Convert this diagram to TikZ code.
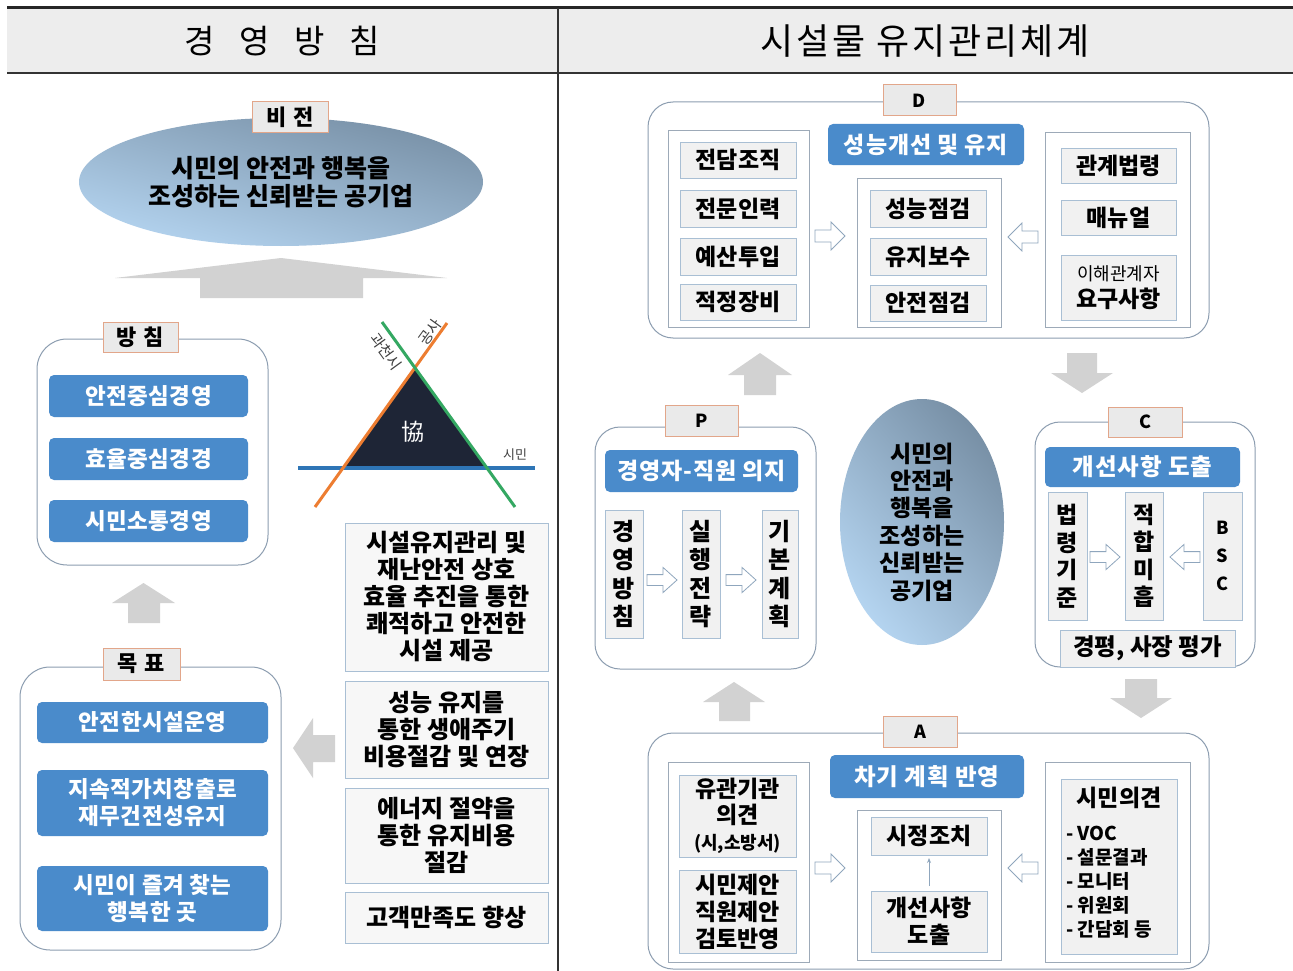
\documentclass[tikz,border=0pt]{standalone}
\usepackage{fontspec}
\setmainfont{Noto Sans CJK KR}
\newfontfamily\hdfont[LetterSpace=8]{Noto Sans CJK KR}
\newfontfamily\barfont[LetterSpace=2]{Noto Sans CJK KR}
\newfontfamily\sbarfont[LetterSpace=4]{Noto Sans CJK KR}
\usetikzlibrary{shapes.geometric,arrows.meta}
\definecolor{barc}{HTML}{4A8BCB}
\definecolor{lblf}{HTML}{EAEAEA}
\definecolor{lbld}{HTML}{E2A68A}
\definecolor{oboxc}{HTML}{8C9DB0}
\definecolor{itemd}{HTML}{A9BFD4}
\definecolor{itemf}{HTML}{F1F1F1}
\definecolor{grpc}{HTML}{9DAAB8}
\definecolor{garc}{HTML}{D2D2D2}
\definecolor{harc}{HTML}{8FA6BD}
\definecolor{hdrf}{HTML}{EDEDED}
\definecolor{navyc}{HTML}{1E2536}
\definecolor{lineb}{HTML}{2E75B6}
\definecolor{lineo}{HTML}{ED7D31}
\definecolor{lineg}{HTML}{34A862}
\definecolor{ellD}{HTML}{7890A6}
\definecolor{ellL}{HTML}{B4D4F0}
\newcommand{\FS}[2]{\fontsize{#1}{#2}\selectfont}
\newcommand{\BX}[7]{\node[#1, minimum width={(#5)-(#3)}, minimum height={(#6)-(#4)}] (#2) at ({((#3)+(#5))/2},{((#4)+(#6))/2}) {#7};}
\begin{document}
\begin{tikzpicture}[x=1pt,y=-1pt,
  every node/.style={inner sep=0pt, outer sep=0pt},
  lblbox/.style={draw=lbld, fill=lblf, line width=1pt, font=\bfseries\FS{22}{24}},
  outerbox/.style={draw=oboxc, fill=white, line width=1pt, rounded corners=25pt},
  bluebar/.style={fill=barc, rounded corners=5pt, text=white, align=center, font=\barfont\bfseries\FS{22.5}{27}},
  itembox/.style={draw=itemd, fill=itemf, line width=0.8pt, align=center, font=\bfseries\FS{23}{27}},
  grpbox/.style={draw=grpc, fill=white, line width=0.8pt},
  garrow/.style={fill=garc},
  harr/.style={draw=harc, fill=white, line width=0.8pt, line join=miter},
  hollowr/.pic={\draw[harr] (-15,-6) -- (1,-6) -- (1,-14) -- (15,0) -- (1,14) -- (1,6) -- (-15,6) -- cycle;},
  vis/.style={ellipse, shade, top color=ellD, bottom color=ellL, align=center}
]
\useasboundingbox (0,0) rectangle (1293,971);
\fill[white] (0,0) rectangle (1293,971);
% header
\fill[hdrf] (7,8) rectangle (1293,73);
\draw[line width=3pt, black!85] (7,8) -- (1293,8);
\draw[line width=1.2pt, black!80] (7,73) -- (1293,73);
\draw[line width=1.2pt, black!80] (558,8) -- (558,971);
\node[font=\FS{33}{40}] (hdrL) at (282,41) {경\hspace{0.75em}영\hspace{0.75em}방\hspace{0.75em}침};
\node[font=\hdfont\FS{36}{40}] (hdrR) at (925,41) {시설물 유지관리체계};

% ===== left panel =====
\node[vis, shading angle=-15, minimum width=404, minimum height=128, font=\bfseries\FS{25}{28}] (vision) at (281,182) {시민의 안전과 행복을\\조성하는 신뢰받는 공기업};
\BX{lblbox}{vlbl}{252}{102}{328}{133}{비\hspace{0.3em}전}
\fill[garrow] (115,278) -- (281,258) -- (447,278) -- (363,278) -- (363,298) -- (200,298) -- (200,278) -- cycle;

\BX{outerbox, rounded corners=30pt}{bcbox}{37}{339}{268}{565}{}
\BX{lblbox}{bclbl}{103}{322}{178}{352}{방\hspace{0.3em}침}
\BX{bluebar}{bc1}{49}{375}{248}{417}{안전중심경영}
\BX{bluebar}{bc2}{49}{438}{248}{480}{효율중심경경}
\BX{bluebar}{bc3}{49}{500}{248}{542}{시민소통경영}

\fill[garrow] (112,603) -- (143.5,583) -- (175,603) -- (160,603) -- (160,623) -- (128,623) -- (128,603) -- cycle;

\BX{outerbox, rounded corners=30pt}{gbox}{20}{667}{281}{950}{}
\BX{lblbox}{glbl}{103}{648}{180}{680}{목\hspace{0.3em}표}
\BX{bluebar}{g1}{37}{702}{268}{743}{안전한시설운영}
\BX{bluebar}{g2}{37}{770}{268}{836}{지속적가치창출로\\재무건전성유지}
\BX{bluebar}{g3}{37}{866}{268}{931}{시민이 즐겨 찾는\\행복한 곳}

\fill[garrow] (293,748) -- (313,718) -- (313,735) -- (335,735) -- (335,762) -- (313,762) -- (313,778) -- cycle;

% triangle
\coordinate (bL) at (298,468); \coordinate (bR) at (535,468);
\coordinate (oB) at (315,507); \coordinate (oT) at (447,323);
\coordinate (gT) at (382,322); \coordinate (gB) at (515,507);
\fill[navyc] (intersection of oB--oT and gT--gB) -- (intersection of oB--oT and bL--bR) -- (intersection of gT--gB and bL--bR) -- cycle;
\draw[lineb, line width=3.2pt] (bL) -- (bR);
\draw[lineo, line width=3pt] (oB) -- (oT);
\draw[lineg, line width=3pt] (gT) -- (gB);
\node[text=white, font=\FS{23}{25}] (hyup) at (413,432) {協};
\node[text=black!75, font=\FS{13}{15}] (simin) at (515,455) {시민};
\node[text=black!75, font=\FS{15}{17}, rotate=-54] (gcs) at (386,352) {과천시};
\node[text=black!75, font=\FS{15}{17}, rotate=54] (gongsa) at (430,332) {공사};

\BX{itembox, fill=itemf!60, font=\bfseries\FS{24}{27}}{r1}{345}{523}{548}{671}{시설유지관리 및\\재난안전 상호\\효율 추진을 통한\\쾌적하고 안전한\\시설 제공}
\BX{itembox, fill=itemf!60, font=\bfseries\FS{24}{27}}{r2}{345}{681}{548}{778}{성능 유지를\\통한 생애주기\\비용절감 및 연장}
\BX{itembox, fill=itemf!60, font=\bfseries\FS{24}{27}}{r3}{345}{788}{548}{883}{에너지 절약을\\통한 유지비용\\절감}
\BX{itembox, fill=itemf!60, font=\bfseries\FS{24}{27}}{r4}{345}{892}{548}{943}{고객만족도 향상}

% ===== right panel =====
% D
\BX{outerbox}{dbox}{648}{102}{1209}{338}{}
\BX{lblbox, font=\bfseries\FS{18}{20}}{dlbl}{883}{85}{956}{116}{D}
\BX{grpbox}{dgl}{668}{130}{809}{327}{}
\BX{grpbox}{dgm}{857}{178}{1001}{327}{}
\BX{grpbox}{dgr}{1045}{132}{1190}{327}{}
\BX{bluebar, font=\sbarfont\bfseries\FS{23}{27}}{dbar}{828}{124}{1024}{165}{성능개선 및 유지}
\BX{itembox}{d1}{680}{142}{796}{178}{전담조직}
\BX{itembox}{d2}{680}{190}{796}{227}{전문인력}
\BX{itembox}{d3}{680}{238}{796}{275}{예산투입}
\BX{itembox}{d4}{680}{284}{796}{320}{적정장비}
\BX{itembox}{d5}{870}{190}{986}{227}{성능점검}
\BX{itembox}{d6}{870}{238}{986}{275}{유지보수}
\BX{itembox}{d7}{870}{285}{986}{321}{안전점검}
\BX{itembox}{d8}{1061}{148}{1176}{183}{관계법령}
\BX{itembox}{d9}{1061}{200}{1176}{235}{매뉴얼}
\BX{itembox}{d10}{1061}{255}{1176}{320}{{\mdseries\FS{18}{25}이해관계자}\\요구사항}
\pic at (830,236) {hollowr};
\pic[xscale=-1] at (1023,237) {hollowr};

% gray cycle arrows
\fill[garrow] (728,375) -- (760,353) -- (792,375) -- (776,375) -- (776,395) -- (744,395) -- (744,375) -- cycle;
\fill[garrow] (1067,353) -- (1097,353) -- (1097,373) -- (1113,373) -- (1082,393) -- (1051,373) -- (1067,373) -- cycle;
\fill[garrow] (1125,679) -- (1157,679) -- (1157,698) -- (1172,698) -- (1141,718) -- (1110,698) -- (1125,698) -- cycle;
\fill[garrow] (703,702) -- (734,682) -- (765,702) -- (750,702) -- (750,721) -- (719,721) -- (719,702) -- cycle;

% P
\BX{outerbox}{pbox}{595}{427}{816}{669}{}
\BX{lblbox, font=\bfseries\FS{18}{20}}{plbl}{665}{405}{738}{436}{P}
\BX{bluebar, font=\sbarfont\bfseries\FS{23}{27}}{pbar}{605}{450}{798}{492}{경영자-직원 의지}
\BX{itembox, font=\bfseries\FS{24}{28.5}}{p1}{605}{510}{643}{638}{경\\영\\방\\침}
\BX{itembox, font=\bfseries\FS{24}{28.5}}{p2}{682}{510}{720}{638}{실\\행\\전\\략}
\BX{itembox, font=\bfseries\FS{24}{28.5}}{p3}{762}{510}{798}{638}{기\\본\\계\\획}
\pic[yscale=0.9] at (662,580) {hollowr};
\pic[yscale=0.9] at (741,580) {hollowr};

% center ellipse
\node[vis, shading angle=-50, minimum width=164, minimum height=246, font=\bfseries\FS{23}{27.4}] (core) at (922,522) {시민의\\안전과\\행복을\\조성하는\\신뢰받는\\공기업};

% C
\BX{outerbox}{cbox}{1035}{422}{1255}{667}{}
\BX{lblbox, font=\bfseries\FS{18}{20}}{clbl}{1108}{407}{1182}{437}{C}
\BX{bluebar, font=\sbarfont\bfseries\FS{23.5}{27}}{cbar}{1045}{447}{1240}{487}{개선사항 도출}
\BX{itembox, font=\bfseries\FS{23}{27.5}}{c1}{1048}{492}{1087}{620}{법\\령\\기\\준}
\BX{itembox, font=\bfseries\FS{23}{27.5}}{c2}{1125}{492}{1163}{620}{적\\합\\미\\흡}
\BX{itembox, font=\bfseries\FS{18}{28}}{c3}{1203}{492}{1242}{620}{B\\S\\C}
\BX{itembox, font=\bfseries\FS{23.5}{27}}{c4}{1060}{630}{1235}{667}{경평, 사장 평가}
\pic[yscale=0.9] at (1105,557) {hollowr};
\pic[xscale=-1, yscale=0.9] at (1185,557) {hollowr};

% A
\BX{outerbox}{abox}{648}{733}{1209}{969}{}
\BX{lblbox, font=\bfseries\FS{18}{20}}{albl}{883}{716}{957}{747}{A}
\BX{grpbox}{agl}{668}{762}{809}{962}{}
\BX{grpbox}{agm}{857}{810}{1001}{960}{}
\BX{grpbox}{agr}{1045}{762}{1190}{962}{}
\BX{bluebar, font=\sbarfont\bfseries\FS{23.5}{27}}{abar}{830}{755}{1024}{798}{차기 계획 반영}
\BX{itembox, font=\bfseries\FS{23}{26}}{a1}{679}{775}{796}{857}{유관기관\\의견\\{\FS{18}{27}(시,소방서)}}
\BX{itembox, font=\bfseries\FS{23}{27}}{a2}{679}{870}{796}{953}{시민제안\\직원제안\\검토반영}
\BX{itembox}{sj}{871}{817}{987}{855}{시정조치}
\BX{itembox}{gs}{871}{891}{987}{952}{개선사항\\도출}
\draw[-{Stealth[length=5pt,width=4pt]}, draw=harc, line width=0.8pt, shorten <=5pt, shorten >=3pt] (gs.north) -- (sj.south);
\BX{itembox}{a3}{1061}{779}{1177}{954}{}
\node[font=\bfseries\FS{23}{26}] (smt) at (1119,798) {시민의견};
\node[font=\bfseries\FS{19}{24}, align=left, anchor=north west] (sml) at (1066,826) {- VOC\\- 설문결과\\- 모니터\\- 위원회\\- 간담회 등};
\pic at (830,868) {hollowr};
\pic[xscale=-1] at (1023,868) {hollowr};
\end{tikzpicture}
\end{document}
